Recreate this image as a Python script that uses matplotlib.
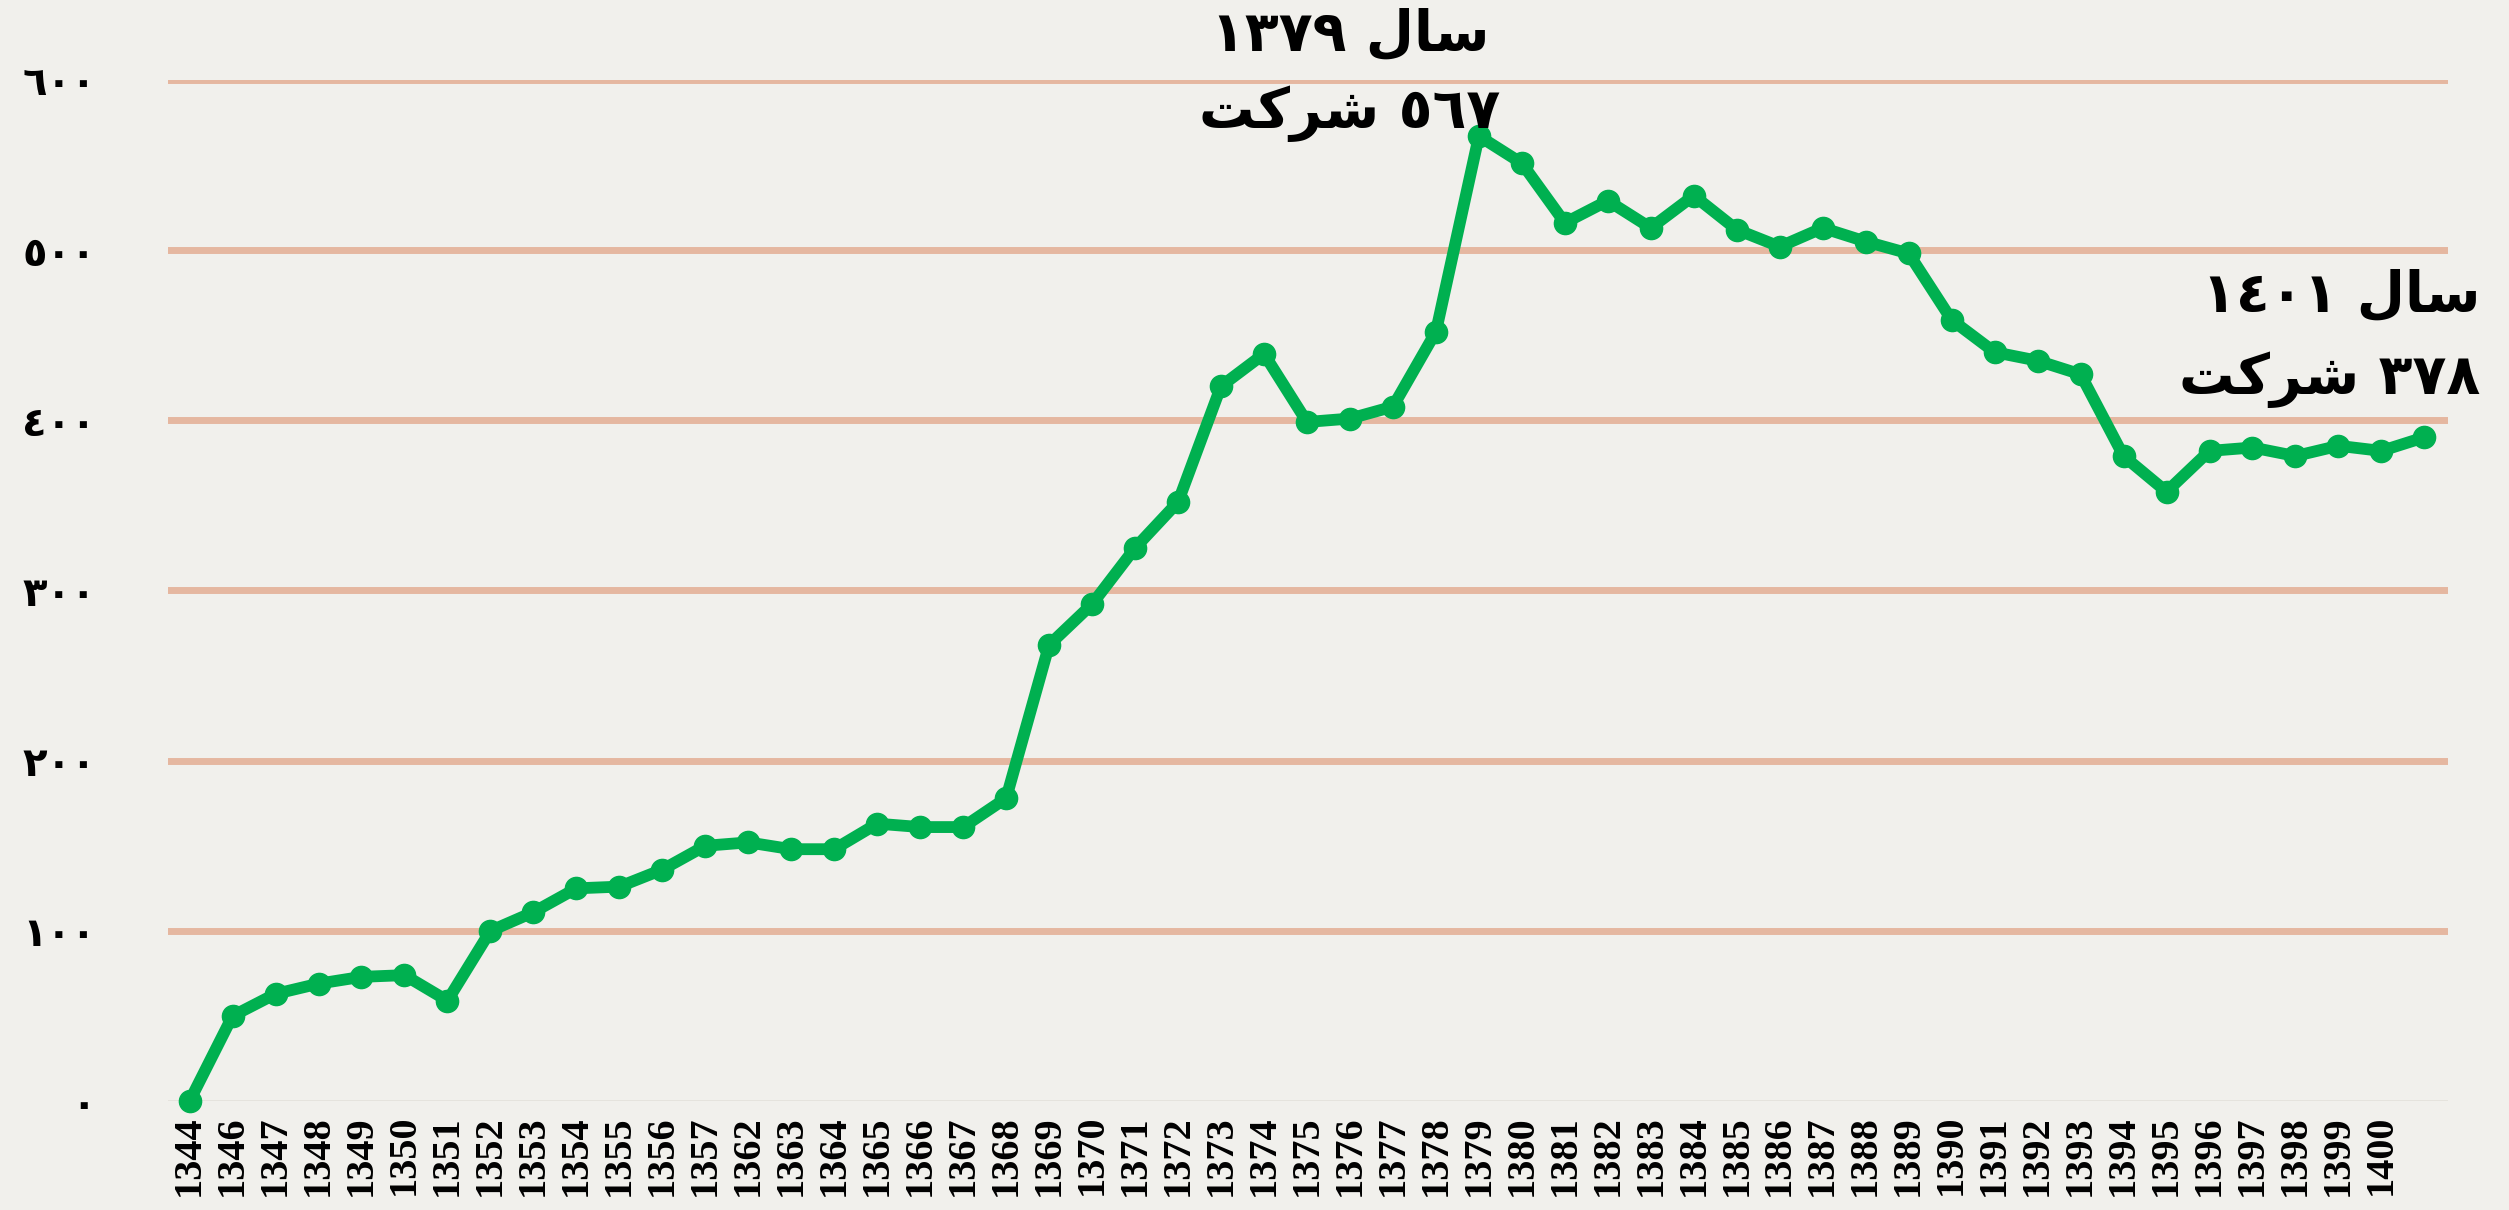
import matplotlib
matplotlib.use("Agg")
import matplotlib.pyplot as plt

# data (number of companies per year)
years = [1344, 1346, 1347, 1348, 1349, 1350, 1351, 1352, 1353, 1354, 1355,
         1356, 1357, 1362, 1363, 1364, 1365, 1366, 1367, 1368, 1369, 1370,
         1371, 1372, 1373, 1374, 1375, 1376, 1377, 1378, 1379, 1380, 1381,
         1382, 1383, 1384, 1385, 1386, 1387, 1388, 1389, 1390, 1391, 1392,
         1393, 1394, 1395, 1396, 1397, 1398, 1399, 1400, 1401]
counts = [0, 50, 63, 69, 73, 74, 59, 100, 111, 125, 126,
          136, 150, 152, 148, 148, 163, 161, 161, 178, 268, 292,
          325, 352, 420, 439, 399, 401, 408, 452, 567, 551, 516,
          529, 513, 532, 512, 502, 513, 505, 498, 459, 440, 435,
          427, 379, 358, 382, 384, 379, 385, 382, 390]
# last year has no tick label in the original
xlabels = [str(y) for y in years[:-1]] + [""]
yticks = [0, 100, 200, 300, 400, 500, 600]

# arabic-indic digits, text written in visual (shaped) order
AR_DIGITS = "\u0660\u0661\u0662\u0663\u0664\u0665\u0666\u0667\u0668\u0669"
SAL = "\uFEDD\uFE8E\uFEB3"                 # سال
SHERKAT = "\uFE96\uFB90\uFEAE\uFEB7"       # شرکت


def ar_num(n):
    return "".join(AR_DIGITS[int(c)] for c in str(n))


bg = "#F1F0EC"
green = "#00B050"
gridc = "#E5B7A0"

fig = plt.figure(figsize=(25.09, 12.10), dpi=100, facecolor=bg)
ax = fig.add_axes([0.067, 0.090, 0.9087, 0.844])
ax.set_facecolor(bg)

x = list(range(len(years)))

for v in yticks[1:]:
    ax.axhline(v, color=gridc, lw=5, zorder=1)
ax.axhline(0, color="#E2DFD9", lw=1.8, zorder=1)

ax.plot(x, counts, color=green, lw=8.5, marker="o", ms=16,
        solid_joinstyle="round", zorder=3, clip_on=False)

ax.set_xlim(-0.5, 52.55)
ax.set_ylim(0, 600)

ax.set_xticks(x)
ax.set_xticklabels(xlabels, rotation=90, fontsize=29, fontweight="bold",
                   family="Liberation Serif")
ax.set_yticks(yticks)
ax.set_yticklabels([ar_num(v) for v in yticks], fontsize=29,
                   fontweight="bold", family="DejaVu Sans")
ax.tick_params(axis="x", length=0, pad=10)
ax.tick_params(axis="y", length=0, pad=52)
for s in ax.spines.values():
    s.set_visible(False)

# annotations
peak = years.index(1379)
ax.text(peak - 3.0, 626, ar_num(1379) + " " + SAL, ha="center", va="center",
        fontsize=40, fontweight="bold", family="DejaVu Sans", clip_on=False)
ax.text(peak - 3.0, 580, SHERKAT + " " + ar_num(567), ha="center",
        va="center", fontsize=40, fontweight="bold", family="DejaVu Sans")

ax.text(53.3, 473, ar_num(1401) + " " + SAL, ha="right", va="center",
        fontsize=40, fontweight="bold", family="DejaVu Sans", clip_on=False)
ax.text(53.3, 424, SHERKAT + " " + ar_num(378), ha="right", va="center",
        fontsize=40, fontweight="bold", family="DejaVu Sans", clip_on=False)

fig.savefig("out.png", dpi=100, facecolor=bg)
